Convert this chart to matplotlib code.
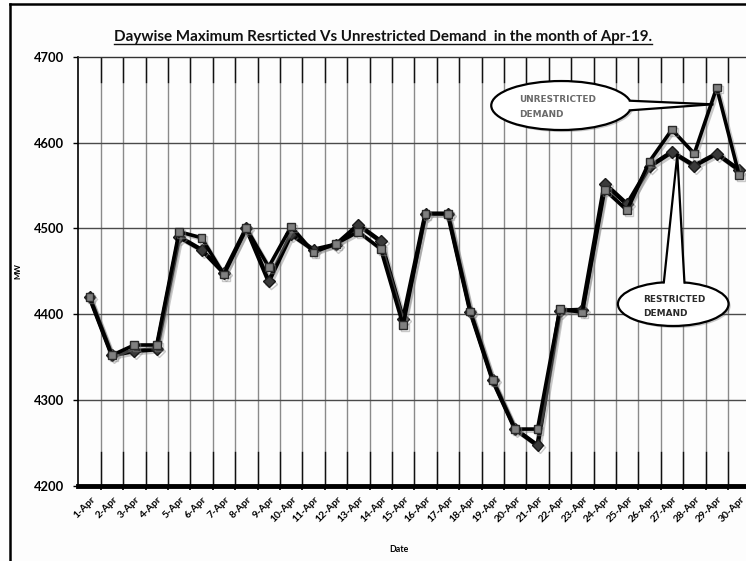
import numpy as np
import matplotlib
matplotlib.use("Agg")
import matplotlib.pyplot as plt
from matplotlib.patches import Ellipse, Polygon
from matplotlib.lines import Line2D
import matplotlib.patheffects as pe
from matplotlib.transforms import ScaledTranslation

dates = ["1-Apr", "2-Apr", "3-Apr", "4-Apr", "5-Apr", "6-Apr", "7-Apr", "8-Apr",
         "9-Apr", "10-Apr", "11-Apr", "12-Apr", "13-Apr", "14-Apr", "15-Apr",
         "16-Apr", "17-Apr", "18-Apr", "19-Apr", "20-Apr", "21-Apr", "22-Apr",
         "23-Apr", "24-Apr", "25-Apr", "26-Apr", "27-Apr", "28-Apr", "29-Apr", "30-Apr"]
restricted = [4420, 4352, 4357, 4359, 4490, 4475, 4448, 4500, 4438, 4493,
              4475, 4481, 4504, 4485, 4394, 4517, 4517, 4403, 4323, 4266,
              4247, 4404, 4405, 4552, 4528, 4572, 4589, 4573, 4587, 4568]
unrestricted = [4420, 4352, 4364, 4364, 4496, 4489, 4446, 4500, 4455, 4502,
                4472, 4482, 4496, 4476, 4387, 4517, 4517, 4403, 4323, 4266,
                4266, 4406, 4402, 4545, 4521, 4578, 4615, 4587, 4664, 4562]
yticks = [4200, 4300, 4400, 4500, 4600, 4700]

title = "Daywise Maximum Resrticted Vs Unrestricted Demand  in the month of Apr-19."

W, H = 746, 561
fig = plt.figure(figsize=(W / 100, H / 100), dpi=100)
fig.patch.set_facecolor("#fdfdfd")

ax_l, ax_r, ax_t, ax_b = 78.3, 750.3, 56.7, 485.7
ax = fig.add_axes([ax_l / W, (H - ax_b) / H, (ax_r - ax_l) / W, (ax_b - ax_t) / H])
ax.set_facecolor("#fdfdfd")

x = np.arange(len(dates))
ax.set_xlim(-0.5, len(dates) - 0.5)
ax.set_ylim(4200, 4700)

# grid
bounds = np.arange(0.5, len(dates) - 0.5, 1)
for b in bounds:
    ax.axvline(b, color="#8a8a8a", lw=1.0, zorder=1)
    ax.axvline(b, ymin=0.941, ymax=1.0, color="#111111", lw=1.0, zorder=1.1)
    ax.axvline(b, ymin=0.0, ymax=0.079, color="#111111", lw=1.0, zorder=1.1)
for yv in yticks[1:-1]:
    ax.axhline(yv, color="#4a4a4a", lw=1.0, zorder=1)

shadow = [pe.SimpleLineShadow(offset=(1.5, -1.5), shadow_color="#888888", alpha=0.45), pe.Normal()]
ax.plot(x, restricted, color="black", lw=3.2, marker="D", markersize=6,
        markerfacecolor="#3a3a3a", markeredgecolor="#1a1a1a", markeredgewidth=1,
        zorder=3, path_effects=shadow)
ax.plot(x, unrestricted, color="black", lw=2.6, marker="s", markersize=5.5,
        markerfacecolor="#808080", markeredgecolor="#2a2a2a", markeredgewidth=1,
        zorder=4, path_effects=shadow)

# spines
ax.spines["right"].set_visible(False)
ax.spines["top"].set_color("#333333")
ax.spines["top"].set_linewidth(1.0)
ax.spines["left"].set_color("black")
ax.spines["left"].set_linewidth(1.2)
ax.spines["bottom"].set_color("black")
ax.spines["bottom"].set_linewidth(3.5)
ax.spines["bottom"].set_zorder(5)

ax.set_yticks(yticks)
ax.set_yticklabels([str(v) for v in yticks], fontfamily="Lato", fontweight="bold", fontsize=9.3)
ax.tick_params(axis="y", direction="out", length=3.5, width=1, color="black", pad=6.5)

ax.set_xticks(x)
ax.set_xticklabels(dates, fontfamily="Lato", fontweight="bold", fontsize=7.4,
                   rotation=45, ha="right", va="center", rotation_mode="anchor")
ax.tick_params(axis="x", which="major", length=0, pad=9)
ax.set_xticks(bounds, minor=True)
ax.tick_params(axis="x", which="minor", direction="out", length=3, width=1.2, color="black")
for lbl in ax.get_xticklabels():
    lbl.set_transform(lbl.get_transform() + ScaledTranslation(4 / 100, 0, fig.dpi_scale_trans))

ax.set_ylabel("MW", fontfamily="Lato", fontweight="bold", fontsize=5.8)
ax.yaxis.set_label_coords((21 - ax_l) / (ax_r - ax_l), 0.5)
fig.text(399 / W, 1 - 549 / H, "Date", fontfamily="Lato", fontweight="bold",
         fontsize=6.3, ha="center", va="center")

# title with underline
t = fig.text(383 / W, 1 - 37 / H, title, fontfamily="Lato", fontweight="bold",
             fontsize=10.9, ha="center", va="center", color="#111111")
fig.canvas.draw()
bb = t.get_window_extent(fig.canvas.get_renderer())
uy = (bb.y0 + 0.5) / H
fig.add_artist(Line2D([bb.x0 / W, bb.x1 / W], [uy, uy], color="#111111", lw=1.0))

# outer frame
fig.add_artist(Line2D([9.5 / W, 9.5 / W], [0, 1 - 4 / H], color="black", lw=1.8))
fig.add_artist(Line2D([9.5 / W, 1.0], [1 - 4 / H, 1 - 4 / H], color="black", lw=1.8))


def callout(cx, cy, w, h, base, tip, lines, tx, ty, color, side):
    a, b = w / 2, h / 2
    if side == "right":
        pts = [(cx + a * np.sqrt(1 - ((yy - cy) / b) ** 2), yy) for yy in base]
    else:
        pts = [(xx, cy + b * np.sqrt(1 - ((xx - cx) / a) ** 2)) for xx in base]
    ax.add_patch(Ellipse((cx, cy), w, h, facecolor="white", edgecolor="black",
                         lw=1.6, zorder=6, clip_on=False,
                         path_effects=[pe.SimplePatchShadow(offset=(1.5, -1.5), alpha=0.3), pe.Normal()]))
    inner = [(px + (cx - px) * 0.08, py + (cy - py) * 0.08) for px, py in pts]
    ax.add_patch(Polygon([inner[0], pts[0], tip, pts[1], inner[1]], closed=True,
                         facecolor="white", edgecolor="none", zorder=6.5, clip_on=False))
    for px, py in pts:
        ax.add_line(Line2D([px, tip[0]], [py, tip[1]], color="black", lw=1.6, zorder=6.6))
    for s, yy in zip(lines, ty):
        ax.text(tx, yy, s, fontfamily="DejaVu Sans", fontweight="bold", fontsize=6.4,
                color=color, ha="left", va="center", zorder=7)


callout(21.06, 4643.1, 6.25, 57.1, [4648.7, 4637.5], (27.8, 4644.5),
        ["UNRESTRICTED", "DEMAND"], 19.18, [4650.3, 4633.2], "#6a6a6a", "right")
callout(26.06, 4411.8, 4.94, 51.3, [25.64, 26.56], (26.24, 4585.4),
        ["RESTRICTED", "DEMAND"], 24.71, [4416.5, 4401.0], "#2a2a2a", "top")

fig.savefig("out.png", dpi=100, facecolor=fig.get_facecolor())
